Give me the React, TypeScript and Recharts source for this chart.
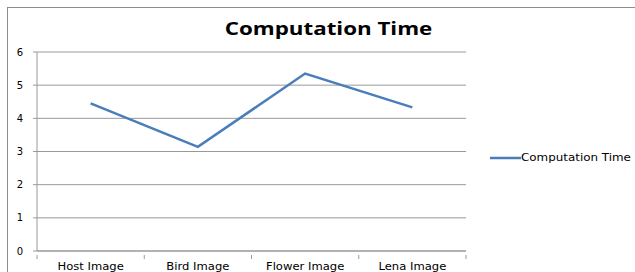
import React from "react";
import { LineChart, Line, XAxis, YAxis, CartesianGrid } from "recharts";

const categories = ["Host Image", "Bird Image", "Flower Image", "Lena Image"];
const computationTime = [4.45, 3.14, 5.35, 4.33];
const yTicks = [0, 1, 2, 3, 4, 5, 6];

const data = categories.map((c, i) => ({ name: c, value: computationTime[i] }));

const font = "'DejaVu Sans', Verdana, sans-serif";
const titleFont = "'Open Sans', 'DejaVu Sans', sans-serif";

const XTick = (props: any) => {
  const { x, y, payload, index, width } = props;
  const band = width / categories.length;
  const left = x - band / 2;
  return (
    <g>
      <line x1={left} y1={y - 4} x2={left} y2={y} stroke="#999" />
      {index === categories.length - 1 && (
        <line x1={x + band / 2} y1={y - 4} x2={x + band / 2} y2={y} stroke="#999" />
      )}
      <g transform={`translate(${x},${y + 11}) scale(1.16,1)`}>
        <text x={0} y={0} textAnchor="middle" fontSize={10} fontFamily={font} fill="#000">
          {payload.value}
        </text>
      </g>
    </g>
  );
};

export default function App() {
  return (
    <div style={{ position: "absolute", left: 0, top: 0, width: 635, height: 272, background: "#fff", overflow: "hidden" }}>
      <div style={{ position: "absolute", left: 7, top: 7, width: 640, height: 300, border: "1px solid #8c8c8c", boxSizing: "border-box" }} />
      <div style={{ position: "absolute", left: 176, top: 16, width: 305, textAlign: "center", fontFamily: titleFont, fontWeight: 700, fontSize: 18, color: "#000", whiteSpace: "nowrap", transform: "scaleX(1.24)", transformOrigin: "50% 50%" }}>
        Computation Time
      </div>
      <div style={{ position: "absolute", left: 0, top: 0 }}>
        <LineChart width={635} height={272} data={data} margin={{ top: 52, right: 169, bottom: 0, left: 0 }}>
          <CartesianGrid vertical={false} stroke="#999" strokeWidth={1} />
          <XAxis
            dataKey="name"
            scale="band"
            height={21}
            stroke="#999"
            tickLine={false}
            interval={0}
            tick={<XTick />}
          />
          <YAxis
            width={37}
            domain={[0, 6]}
            ticks={yTicks}
            stroke="#999"
            tickSize={4}
            tickMargin={10}
            tick={{ fill: "#000", fontSize: 10, fontFamily: font }}
            interval={0}
          />
          <Line
            type="linear"
            dataKey="value"
            name="Computation Time"
            stroke="#4a7ebb"
            strokeWidth={2.5}
            dot={false}
            activeDot={false}
            isAnimationActive={false}
          />
        </LineChart>
      </div>
      <div style={{ position: "absolute", left: 490, top: 152, display: "flex", alignItems: "center", fontFamily: font, fontSize: 10, color: "#000" }}>
        <svg width={31} height={4} style={{ display: "block" }}>
          <line x1={0} y1={2} x2={31} y2={2} stroke="#4a7ebb" strokeWidth={2.5} />
        </svg>
        <span style={{ display: "inline-block", transform: "scaleX(1.19)", transformOrigin: "0 50%", whiteSpace: "nowrap" }}>Computation Time</span>
      </div>
    </div>
  );
}
